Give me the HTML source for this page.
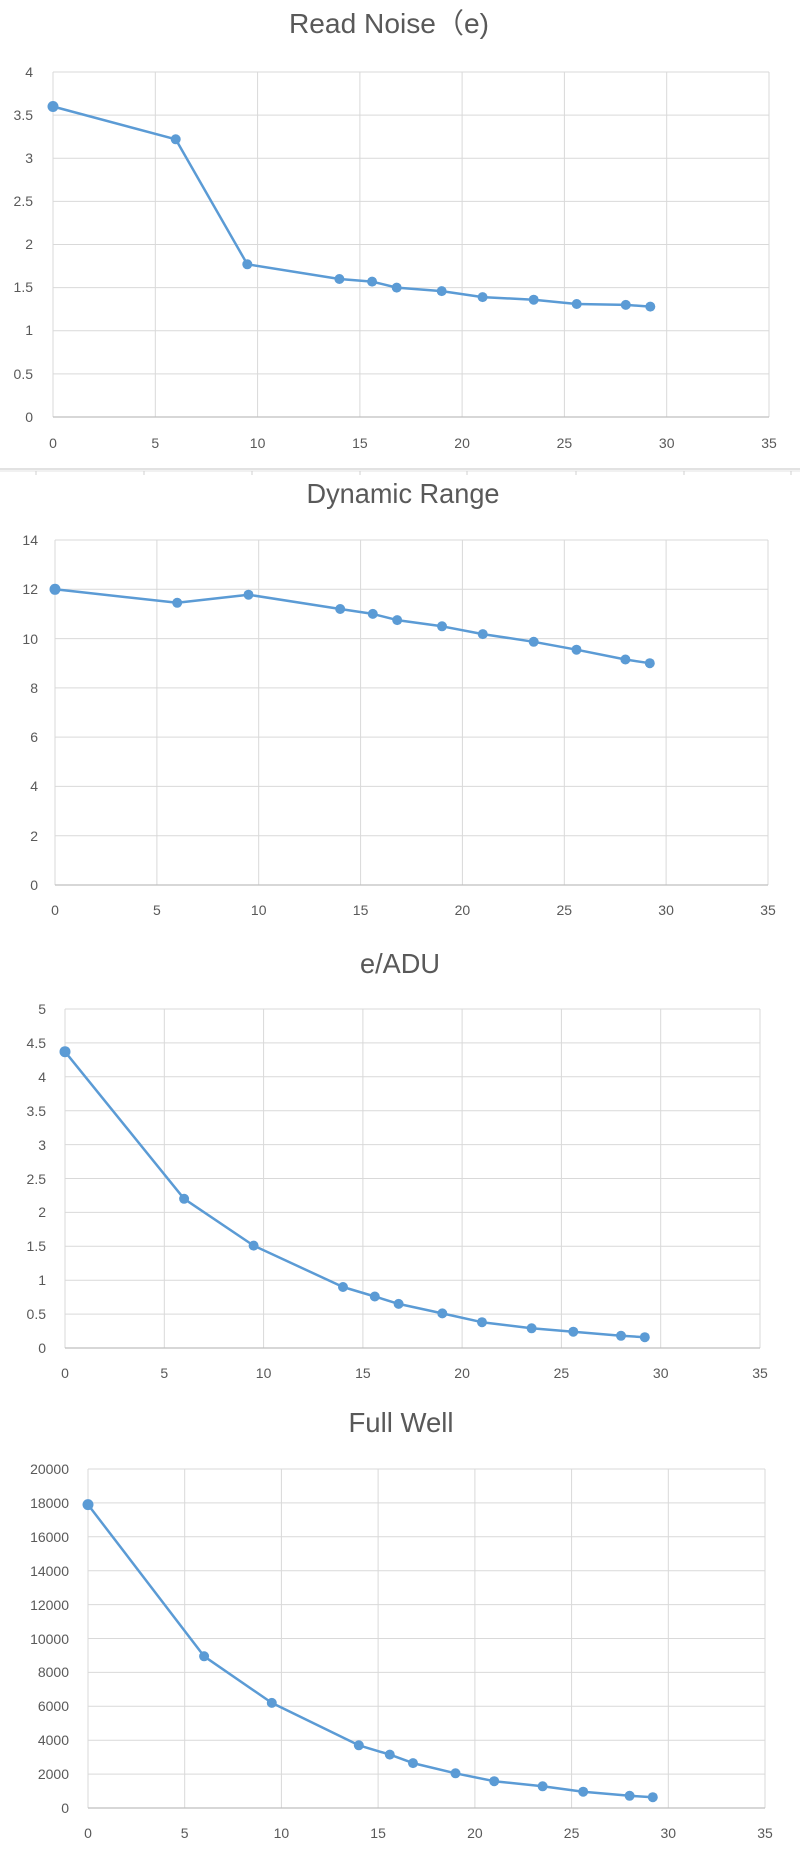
<!DOCTYPE html>
<html><head><meta charset="utf-8"><style>
html,body{margin:0;padding:0;background:#fff;}
svg{display:block;font-family:"Liberation Sans","Noto Sans CJK SC",sans-serif;}
.g{stroke:#d9d9d9;stroke-width:1;fill:none}
.ax{stroke:#bfbfbf;stroke-width:1.3}
.s{fill:none;stroke:#5b9bd5;stroke-width:2.5;stroke-linejoin:round}
.m circle{fill:#5b9bd5}
.yl{font-size:14px;fill:#595959;text-anchor:end}
.xl{font-size:14px;fill:#595959;text-anchor:middle}
.t{font-size:28px;fill:#595959;text-anchor:middle}
</style></head><body>
<svg width="800" height="1859" viewBox="0 0 800 1859" xmlns="http://www.w3.org/2000/svg">
<rect width="800" height="1859" fill="#fff"/>

<!-- Chart 1 -->
<text class="t" x="389" y="33" textLength="200" lengthAdjust="spacingAndGlyphs">Read Noise（e)</text>
<g class="g">
<path d="M53 72H769M53 115.1H769M53 158.25H769M53 201.4H769M53 244.5H769M53 287.6H769M53 330.75H769M53 373.9H769"/>
<path d="M53 72V417M155.3 72V417M257.6 72V417M359.9 72V417M462.1 72V417M564.4 72V417M666.7 72V417M769 72V417"/>
</g>
<line class="ax" x1="53" y1="417" x2="769" y2="417"/>
<g class="yl"><text x="33" y="77">4</text><text x="33" y="120">3.5</text><text x="33" y="163">3</text><text x="33" y="206">2.5</text><text x="33" y="249">2</text><text x="33" y="292">1.5</text><text x="33" y="335">1</text><text x="33" y="379">0.5</text><text x="33" y="422">0</text></g>
<g class="xl"><text x="53" y="448">0</text><text x="155.3" y="448">5</text><text x="257.6" y="448">10</text><text x="359.9" y="448">15</text><text x="462.1" y="448">20</text><text x="564.4" y="448">25</text><text x="666.7" y="448">30</text><text x="769" y="448">35</text></g>
<polyline class="s" points="53,106.5 175.7,139.3 247.3,264.3 339.4,279 372.1,281.6 396.7,287.6 441.7,291.1 482.6,297.1 533.7,299.7 576.7,304 625.8,304.9 650.3,306.6"/>
<g class="m"><circle cx="53" cy="106.5" r="5.5"/><circle cx="175.7" cy="139.3" r="5"/><circle cx="247.3" cy="264.3" r="5"/><circle cx="339.4" cy="279" r="5"/><circle cx="372.1" cy="281.6" r="5"/><circle cx="396.7" cy="287.6" r="5"/><circle cx="441.7" cy="291.1" r="5"/><circle cx="482.6" cy="297.1" r="5"/><circle cx="533.7" cy="299.7" r="5"/><circle cx="576.7" cy="304" r="5"/><circle cx="625.8" cy="304.9" r="5"/><circle cx="650.3" cy="306.6" r="5"/></g>
<line x1="0" y1="469" x2="800" y2="469" stroke="#d9d9d9" stroke-width="1.5"/>

<!-- Chart 2 -->
<line x1="0" y1="471" x2="800" y2="471" stroke="#e3e3e3" stroke-width="1"/>
<g stroke="#d0d0d0"><path d="M36 471v4M144 471v4M252 471v4M360 471v4M467 471v4M576 471v4M684 471v4M791 471v4"/></g>
<text class="t" x="403" y="503" textLength="193" lengthAdjust="spacingAndGlyphs">Dynamic Range</text>
<g class="g">
<path d="M55 540H768M55 589.3H768M55 638.6H768M55 687.9H768M55 737.1H768M55 786.4H768M55 835.7H768"/>
<path d="M55 540V885M156.9 540V885M258.7 540V885M360.6 540V885M462.4 540V885M564.3 540V885M666.1 540V885M768 540V885"/>
</g>
<line class="ax" x1="55" y1="885" x2="768" y2="885"/>
<g class="yl"><text x="38" y="545">14</text><text x="38" y="594">12</text><text x="38" y="644">10</text><text x="38" y="693">8</text><text x="38" y="742">6</text><text x="38" y="791">4</text><text x="38" y="841">2</text><text x="38" y="890">0</text></g>
<g class="xl"><text x="55" y="915">0</text><text x="156.9" y="915">5</text><text x="258.7" y="915">10</text><text x="360.6" y="915">15</text><text x="462.4" y="915">20</text><text x="564.3" y="915">25</text><text x="666.1" y="915">30</text><text x="768" y="915">35</text></g>
<polyline class="s" points="55,589.3 177.2,602.8 248.5,594.7 340.2,609 372.8,613.9 397.2,620.1 442,626.3 482.8,634.1 533.7,641.8 576.5,649.7 625.4,659.5 649.8,663.2"/>
<g class="m"><circle cx="55" cy="589.3" r="5.5"/><circle cx="177.2" cy="602.8" r="5"/><circle cx="248.5" cy="594.7" r="5"/><circle cx="340.2" cy="609" r="5"/><circle cx="372.8" cy="613.9" r="5"/><circle cx="397.2" cy="620.1" r="5"/><circle cx="442" cy="626.3" r="5"/><circle cx="482.8" cy="634.1" r="5"/><circle cx="533.7" cy="641.8" r="5"/><circle cx="576.5" cy="649.7" r="5"/><circle cx="625.4" cy="659.5" r="5"/><circle cx="649.8" cy="663.2" r="5"/></g>

<!-- Chart 3 -->
<text class="t" x="400" y="973" textLength="80" lengthAdjust="spacingAndGlyphs">e/ADU</text>
<g class="g">
<path d="M65 1009H760M65 1042.9H760M65 1076.8H760M65 1110.7H760M65 1144.6H760M65 1178.5H760M65 1212.4H760M65 1246.3H760M65 1280.2H760M65 1314.1H760"/>
<path d="M65 1009V1348M164.3 1009V1348M263.6 1009V1348M362.9 1009V1348M462.1 1009V1348M561.4 1009V1348M660.7 1009V1348M760 1009V1348"/>
</g>
<line class="ax" x1="65" y1="1348" x2="760" y2="1348"/>
<g class="yl"><text x="46" y="1014">5</text><text x="46" y="1048">4.5</text><text x="46" y="1082">4</text><text x="46" y="1116">3.5</text><text x="46" y="1150">3</text><text x="46" y="1184">2.5</text><text x="46" y="1217">2</text><text x="46" y="1251">1.5</text><text x="46" y="1285">1</text><text x="46" y="1319">0.5</text><text x="46" y="1353">0</text></g>
<g class="xl"><text x="65" y="1378">0</text><text x="164.3" y="1378">5</text><text x="263.6" y="1378">10</text><text x="362.9" y="1378">15</text><text x="462.1" y="1378">20</text><text x="561.4" y="1378">25</text><text x="660.7" y="1378">30</text><text x="760" y="1378">35</text></g>
<polyline class="s" points="65,1051.7 184.1,1198.8 253.6,1245.6 343,1287 374.8,1296.5 398.6,1303.9 442.3,1313.4 482,1322.2 531.6,1328.3 573.3,1331.7 621,1335.8 644.8,1337.2"/>
<g class="m"><circle cx="65" cy="1051.7" r="5.5"/><circle cx="184.1" cy="1198.8" r="5"/><circle cx="253.6" cy="1245.6" r="5"/><circle cx="343" cy="1287" r="5"/><circle cx="374.8" cy="1296.5" r="5"/><circle cx="398.6" cy="1303.9" r="5"/><circle cx="442.3" cy="1313.4" r="5"/><circle cx="482" cy="1322.2" r="5"/><circle cx="531.6" cy="1328.3" r="5"/><circle cx="573.3" cy="1331.7" r="5"/><circle cx="621" cy="1335.8" r="5"/><circle cx="644.8" cy="1337.2" r="5"/></g>

<!-- Chart 4 -->
<text class="t" x="401" y="1432" textLength="105" lengthAdjust="spacingAndGlyphs">Full Well</text>
<g class="g">
<path d="M88 1469H765M88 1502.9H765M88 1536.8H765M88 1570.7H765M88 1604.6H765M88 1638.5H765M88 1672.4H765M88 1706.3H765M88 1740.2H765M88 1774.1H765"/>
<path d="M88 1469V1808M184.7 1469V1808M281.4 1469V1808M378.1 1469V1808M474.9 1469V1808M571.6 1469V1808M668.3 1469V1808M765 1469V1808"/>
</g>
<line class="ax" x1="88" y1="1808" x2="765" y2="1808"/>
<g class="yl"><text x="69" y="1474">20000</text><text x="69" y="1508">18000</text><text x="69" y="1542">16000</text><text x="69" y="1576">14000</text><text x="69" y="1610">12000</text><text x="69" y="1644">10000</text><text x="69" y="1677">8000</text><text x="69" y="1711">6000</text><text x="69" y="1745">4000</text><text x="69" y="1779">2000</text><text x="69" y="1813">0</text></g>
<g class="xl"><text x="88" y="1838">0</text><text x="184.7" y="1838">5</text><text x="281.4" y="1838">10</text><text x="378.1" y="1838">15</text><text x="474.9" y="1838">20</text><text x="571.6" y="1838">25</text><text x="668.3" y="1838">30</text><text x="765" y="1838">35</text></g>
<polyline class="s" points="88,1504.6 204.1,1656.3 271.8,1702.9 358.8,1745.3 389.8,1754.6 413,1763.1 455.5,1773.3 494.2,1781.2 542.6,1786.3 583.2,1791.7 629.6,1795.8 652.8,1797.2"/>
<g class="m"><circle cx="88" cy="1504.6" r="5.5"/><circle cx="204.1" cy="1656.3" r="5"/><circle cx="271.8" cy="1702.9" r="5"/><circle cx="358.8" cy="1745.3" r="5"/><circle cx="389.8" cy="1754.6" r="5"/><circle cx="413" cy="1763.1" r="5"/><circle cx="455.5" cy="1773.3" r="5"/><circle cx="494.2" cy="1781.2" r="5"/><circle cx="542.6" cy="1786.3" r="5"/><circle cx="583.2" cy="1791.7" r="5"/><circle cx="629.6" cy="1795.8" r="5"/><circle cx="652.8" cy="1797.2" r="5"/></g>
</svg>
</body></html>
